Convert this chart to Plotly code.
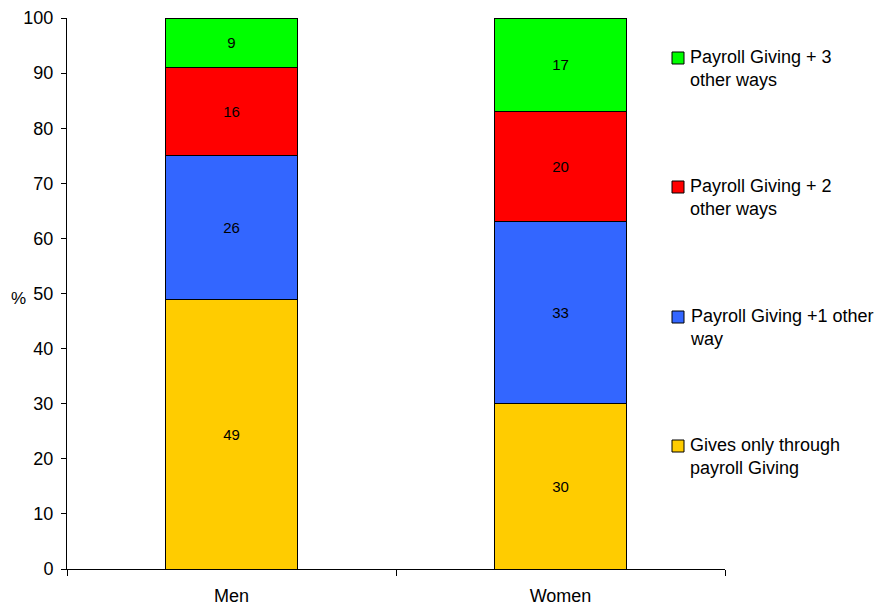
import plotly.graph_objects as go

categories = ["Men", "Women"]
series_names = [
    "Gives only through<br>payroll Giving",
    "Payroll Giving +1 other<br>way",
    "Payroll Giving + 2<br>other ways",
    "Payroll Giving + 3<br>other ways",
]
gives_only = [49, 30]
plus_one = [26, 33]
plus_two = [16, 20]
plus_three = [9, 17]
values = [gives_only, plus_one, plus_two, plus_three]
colors = ["#FFCC00", "#3366FF", "#FF0000", "#00FF00"]
y_ticks = list(range(0, 101, 10))

FONT = "Liberation Sans, Arial, sans-serif"
W, H = 883, 608
L, R, T, B = 67, 158, 18, 39
pw = W - L - R
ph = H - T - B

fig = go.Figure()
for name, vals, col in zip(series_names, values, colors):
    fig.add_trace(go.Bar(
        x=categories, y=vals, name=name,
        marker=dict(color=col, line=dict(color="black", width=1)),
        text=[str(v) for v in vals], textposition="inside",
        insidetextanchor="middle", textangle=0,
        textfont=dict(family=FONT, size=15, color="black"),
        width=0.4, showlegend=False, hoverinfo="skip",
    ))

# manual legend (pixel positions converted to paper coords)
def py(px):
    return (H - B - px) / ph

legend_centers_px = [446, 317, 187, 58]
annotations = []
shapes = []
for name, col, cy in zip(series_names, colors, legend_centers_px):
    shapes.append(dict(type="rect", xref="paper", yref="paper",
                       x0=(672 - L) / pw, x1=(684 - L) / pw,
                       y0=py(cy + 6), y1=py(cy - 6),
                       fillcolor=col, line=dict(color="black", width=1)))
    annotations.append(dict(xref="paper", yref="paper",
                            x=(688 - L) / pw, y=py(cy - 13),
                            xanchor="left", yanchor="top", align="left",
                            showarrow=False, text=name,
                            font=dict(family=FONT, size=18, color="black")))
annotations.append(dict(xref="paper", yref="paper", x=(18 - L) / pw,
                        y=py(298), xanchor="center", yanchor="middle",
                        showarrow=False, text="%",
                        font=dict(family=FONT, size=17, color="black")))

fig.update_layout(
    barmode="stack",
    width=W, height=H,
    margin=dict(l=L, r=R, t=T, b=B, pad=0, autoexpand=False),
    plot_bgcolor="white", paper_bgcolor="white",
    font=dict(family=FONT, size=18, color="black"),
    shapes=shapes, annotations=annotations,
    xaxis=dict(range=[-0.5, 1.5], showline=True, linecolor="black", linewidth=1,
               ticks="outside", tickson="boundaries", ticklen=6, tickcolor="black",
               ticklabelstandoff=10, automargin=False,
               showgrid=False, zeroline=False, fixedrange=True),
    yaxis=dict(range=[0, 100], tickvals=y_ticks, showline=True, linecolor="black",
               linewidth=1, ticks="outside", ticklen=5, tickcolor="black",
               ticklabelstandoff=4, automargin=False,
               showgrid=False, zeroline=False, fixedrange=True),
)

fig.write_html("out.html")
